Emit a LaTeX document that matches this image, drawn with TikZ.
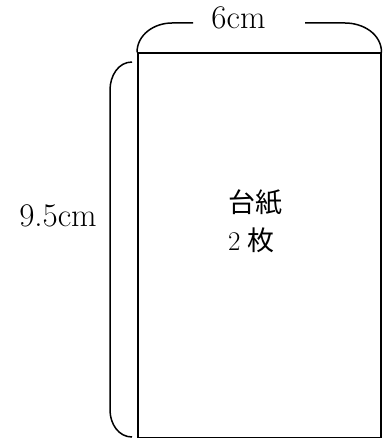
\documentclass[tikz,border=0pt]{standalone}
\usepackage{fontspec}
\newfontfamily\cjk{Noto Sans CJK JP}
\begin{document}
\begin{tikzpicture}[x=1pt,y=-1pt,
  edge/.style={line width=1.5pt,black},
  dimlabel/.style={font=\fontsize{33}{38}\selectfont,inner sep=0pt},
  cjklabel/.style={font=\fontsize{27}{32}\selectfont,inner sep=0pt,anchor=west}]
\useasboundingbox (0,0) rectangle (390,441);
\node[draw,edge,minimum width=243pt,minimum height=384pt,inner sep=0pt,anchor=north west] (card) at (137,52.5) {};
\node[dimlabel] (w) at (238.5,18) {6cm};
\node[dimlabel] (h) at (58,216) {9.5cm};
\node[cjklabel] (t1) at (228,202) {\cjk 台紙};
\node[cjklabel] (t2) at (228,240) {2\hspace{0.25em}\cjk 枚};
\coordinate (tl) at (193,23);
\coordinate (tr) at (305,23);
\coordinate (lt) at (132,62);
\coordinate (lb) at (132,437);
\draw[edge] (card.north west) to[out=90,in=180] (172,23) -- (tl);
\draw[edge] (tr) -- (345,23) to[out=0,in=90] (card.north east);
\draw[edge] (lt) to[out=180,in=90] (110,90) -- (110,410) to[out=-90,in=180] (lb);
\end{tikzpicture}
\end{document}
